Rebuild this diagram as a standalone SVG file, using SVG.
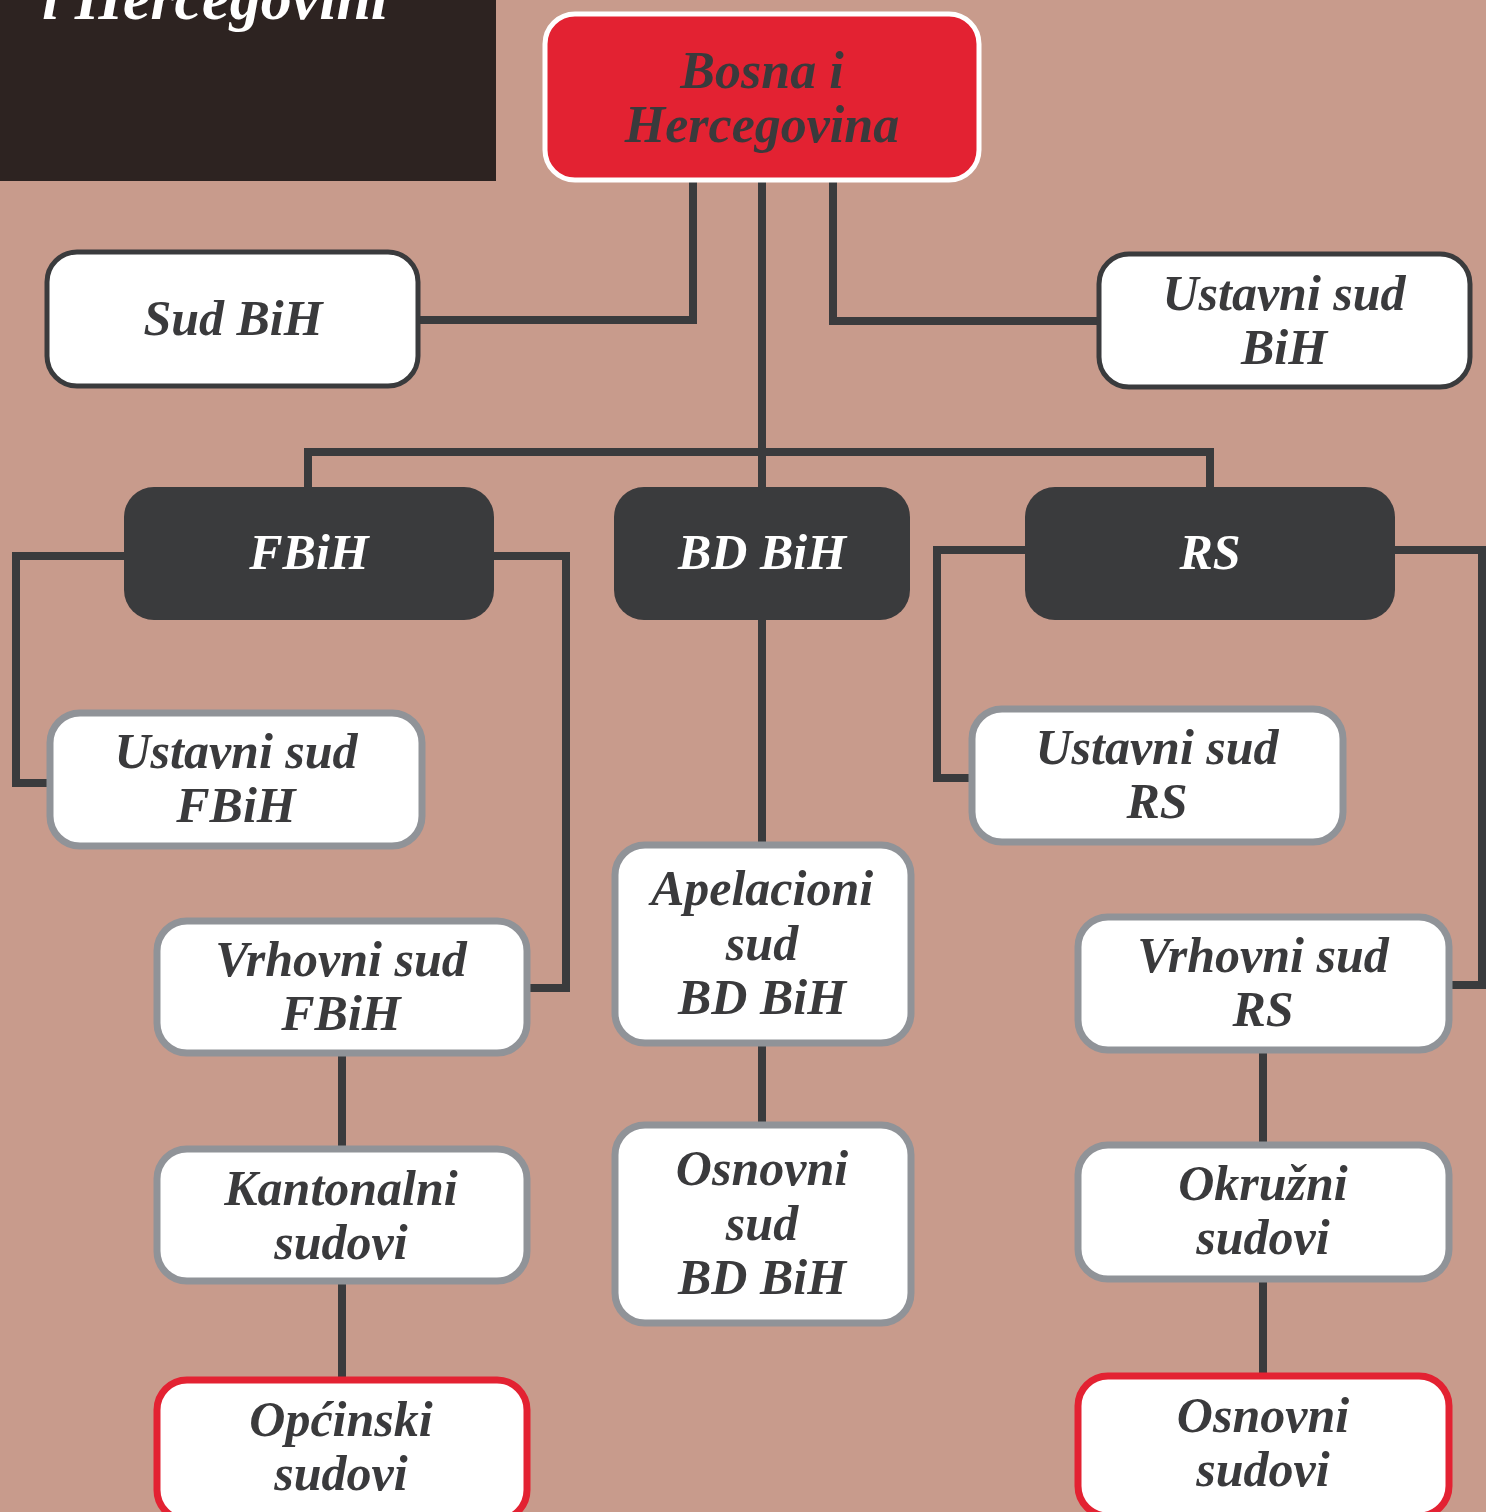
<svg xmlns="http://www.w3.org/2000/svg" width="1486" height="1512" viewBox="0 0 1486 1512">
<style>
.t{font-family:"Liberation Serif","DejaVu Serif",serif;font-style:italic;font-weight:bold;font-size:50px;fill:#3A3A3C;text-anchor:middle}
.w{fill:#FFFFFF}
.c{fill:none;stroke:#3A3B3D;stroke-width:8;stroke-linejoin:miter}
.wb{fill:#FFFFFF;stroke:#3A3B3D;stroke-width:5}
.gb{fill:#FFFFFF;stroke:#909398;stroke-width:7}
.rb{fill:#FFFFFF;stroke:#E32232;stroke-width:7}
.db{fill:#3A3B3D}
</style>
<rect x="0" y="0" width="1486" height="1512" fill="#C89B8C"/>
<g id="title">
<rect x="0" y="0" width="496" height="181" fill="#2D2321"/>
<text x="42" y="19" class="t w" style="text-anchor:start;font-size:62px">i Hercegovini</text>
</g>
<g id="connectors">
<path class="c" d="M693 181 V320 H418"/>
<path class="c" d="M833 181 V321 H1100"/>
<path class="c" d="M762 181 V490"/>
<path class="c" d="M308 490 V452 H1210 V490"/>
<path class="c" d="M124 556 H16 V783 H50"/>
<path class="c" d="M494 556 H566 V988 H527"/>
<path class="c" d="M342 1053 V1149"/>
<path class="c" d="M342 1281 V1380"/>
<path class="c" d="M762 620 V845"/>
<path class="c" d="M762 1043 V1125"/>
<path class="c" d="M1025 550 H937 V778 H972"/>
<path class="c" d="M1395 550 H1482 V985 H1449"/>
<path class="c" d="M1263 1050 V1145"/>
<path class="c" d="M1263 1279 V1376"/>
</g>
<g id="bih">
<rect x="545" y="14" width="434" height="166" rx="30" fill="#E32232" stroke="#FFFFFF" stroke-width="5"/>
<text class="t" x="762" y="88" style="font-size:52px">Bosna i</text>
<text class="t" x="762" y="142" style="font-size:52px">Hercegovina</text>
</g>
<g id="sud-bih">
<rect class="wb" x="47" y="252" width="371" height="134" rx="30"/>
<text class="t" x="233" y="335">Sud BiH</text>
</g>
<g id="ustavni-bih">
<rect class="wb" x="1099" y="254" width="371" height="133" rx="30"/>
<text class="t" x="1284" y="310">Ustavni sud</text>
<text class="t" x="1284" y="364">BiH</text>
</g>
<g id="fbih">
<rect class="db" x="124" y="487" width="370" height="133" rx="30"/>
<text class="t w" x="309" y="569">FBiH</text>
</g>
<g id="bdbih">
<rect class="db" x="614" y="487" width="296" height="133" rx="30"/>
<text class="t w" x="762" y="569">BD BiH</text>
</g>
<g id="rs">
<rect class="db" x="1025" y="487" width="370" height="133" rx="30"/>
<text class="t w" x="1210" y="569">RS</text>
</g>
<g id="ustavni-fbih">
<rect class="gb" x="50" y="713" width="372" height="133" rx="30"/>
<text class="t" x="236" y="768">Ustavni sud</text>
<text class="t" x="236" y="822">FBiH</text>
</g>
<g id="vrhovni-fbih">
<rect class="gb" x="157" y="921" width="370" height="132" rx="30"/>
<text class="t" x="341" y="976">Vrhovni sud</text>
<text class="t" x="341" y="1030">FBiH</text>
</g>
<g id="kantonalni">
<rect class="gb" x="157" y="1149" width="370" height="132" rx="30"/>
<text class="t" x="341" y="1205">Kantonalni</text>
<text class="t" x="341" y="1259">sudovi</text>
</g>
<g id="opcinski">
<rect class="rb" x="157" y="1380" width="370" height="140" rx="30"/>
<text class="t" x="341" y="1436">Općinski</text>
<text class="t" x="341" y="1490">sudovi</text>
</g>
<g id="apelacioni">
<rect class="gb" x="615" y="845" width="296" height="198" rx="30"/>
<text class="t" x="762" y="905">Apelacioni</text>
<text class="t" x="762" y="960">sud</text>
<text class="t" x="762" y="1014">BD BiH</text>
</g>
<g id="osnovni-bd">
<rect class="gb" x="615" y="1125" width="296" height="198" rx="30"/>
<text class="t" x="762" y="1185">Osnovni</text>
<text class="t" x="762" y="1240">sud</text>
<text class="t" x="762" y="1294">BD BiH</text>
</g>
<g id="ustavni-rs">
<rect class="gb" x="972" y="709" width="371" height="133" rx="30"/>
<text class="t" x="1157" y="764">Ustavni sud</text>
<text class="t" x="1157" y="818">RS</text>
</g>
<g id="vrhovni-rs">
<rect class="gb" x="1078" y="917" width="371" height="133" rx="30"/>
<text class="t" x="1263" y="972">Vrhovni sud</text>
<text class="t" x="1263" y="1026">RS</text>
</g>
<g id="okruzni">
<rect class="gb" x="1078" y="1145" width="371" height="134" rx="30"/>
<text class="t" x="1263" y="1200">Okružni</text>
<text class="t" x="1263" y="1254">sudovi</text>
</g>
<g id="osnovni-rs">
<rect class="rb" x="1078" y="1376" width="371" height="140" rx="30"/>
<text class="t" x="1263" y="1432">Osnovni</text>
<text class="t" x="1263" y="1486">sudovi</text>
</g>
</svg>
